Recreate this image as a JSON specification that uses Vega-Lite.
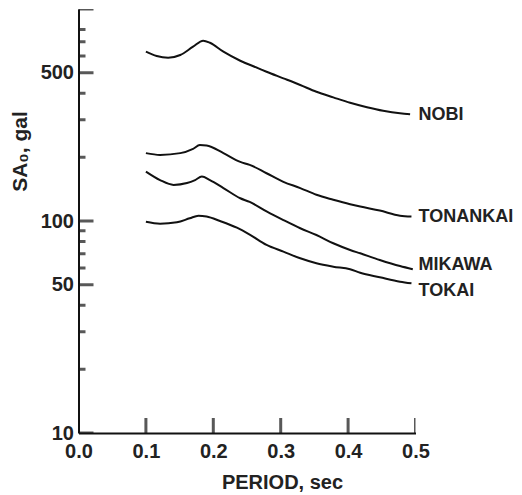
{
  "$schema": "https://vega.github.io/schema/vega-lite/v6.json",
  "width": 337,
  "height": 424,
  "autosize": "none",
  "padding": {"left": 78.5, "top": 9, "right": 106.5, "bottom": 62},
  "background": "white",
  "config": {
    "view": {"stroke": null},
    "font": "Liberation Sans",
    "axis": {
      "domainColor": "#111",
      "domainWidth": 2,
      "ticks": false,
      "labelFont": "Liberation Sans",
      "labelFontSize": 20,
      "labelFontWeight": "bold",
      "labelColor": "#222",
      "titleFont": "Liberation Sans",
      "titleFontSize": 20,
      "titleFontWeight": "bold",
      "titleColor": "#222",
      "grid": false
    }
  },
  "datasets": {
    "curves": [
      {"series": "NOBI", "period": 0.100, "sa": 629},
      {"series": "NOBI", "period": 0.116, "sa": 600},
      {"series": "NOBI", "period": 0.133, "sa": 589},
      {"series": "NOBI", "period": 0.151, "sa": 607},
      {"series": "NOBI", "period": 0.170, "sa": 664},
      {"series": "NOBI", "period": 0.185, "sa": 709},
      {"series": "NOBI", "period": 0.195, "sa": 693},
      {"series": "NOBI", "period": 0.215, "sa": 629},
      {"series": "NOBI", "period": 0.240, "sa": 570},
      {"series": "NOBI", "period": 0.267, "sa": 525},
      {"series": "NOBI", "period": 0.279, "sa": 506},
      {"series": "NOBI", "period": 0.304, "sa": 471},
      {"series": "NOBI", "period": 0.329, "sa": 438},
      {"series": "NOBI", "period": 0.353, "sa": 407},
      {"series": "NOBI", "period": 0.378, "sa": 383},
      {"series": "NOBI", "period": 0.403, "sa": 361},
      {"series": "NOBI", "period": 0.428, "sa": 344},
      {"series": "NOBI", "period": 0.452, "sa": 331},
      {"series": "NOBI", "period": 0.477, "sa": 322},
      {"series": "NOBI", "period": 0.492, "sa": 319},
      {"series": "TONANKAI", "period": 0.100, "sa": 209},
      {"series": "TONANKAI", "period": 0.121, "sa": 205},
      {"series": "TONANKAI", "period": 0.151, "sa": 209},
      {"series": "TONANKAI", "period": 0.170, "sa": 219},
      {"series": "TONANKAI", "period": 0.180, "sa": 228},
      {"series": "TONANKAI", "period": 0.190, "sa": 227},
      {"series": "TONANKAI", "period": 0.215, "sa": 209},
      {"series": "TONANKAI", "period": 0.240, "sa": 190},
      {"series": "TONANKAI", "period": 0.254, "sa": 184},
      {"series": "TONANKAI", "period": 0.279, "sa": 168},
      {"series": "TONANKAI", "period": 0.304, "sa": 153},
      {"series": "TONANKAI", "period": 0.329, "sa": 143},
      {"series": "TONANKAI", "period": 0.353, "sa": 133},
      {"series": "TONANKAI", "period": 0.378, "sa": 126},
      {"series": "TONANKAI", "period": 0.403, "sa": 120},
      {"series": "TONANKAI", "period": 0.418, "sa": 117},
      {"series": "TONANKAI", "period": 0.447, "sa": 112},
      {"series": "TONANKAI", "period": 0.477, "sa": 106},
      {"series": "TONANKAI", "period": 0.494, "sa": 105},
      {"series": "MIKAWA", "period": 0.100, "sa": 171},
      {"series": "MIKAWA", "period": 0.121, "sa": 156},
      {"series": "MIKAWA", "period": 0.141, "sa": 148},
      {"series": "MIKAWA", "period": 0.161, "sa": 151},
      {"series": "MIKAWA", "period": 0.173, "sa": 156},
      {"series": "MIKAWA", "period": 0.183, "sa": 162},
      {"series": "MIKAWA", "period": 0.195, "sa": 156},
      {"series": "MIKAWA", "period": 0.215, "sa": 143},
      {"series": "MIKAWA", "period": 0.240, "sa": 128},
      {"series": "MIKAWA", "period": 0.254, "sa": 123},
      {"series": "MIKAWA", "period": 0.279, "sa": 111},
      {"series": "MIKAWA", "period": 0.304, "sa": 101},
      {"series": "MIKAWA", "period": 0.329, "sa": 92.4},
      {"series": "MIKAWA", "period": 0.353, "sa": 85.9},
      {"series": "MIKAWA", "period": 0.378, "sa": 78.5},
      {"series": "MIKAWA", "period": 0.403, "sa": 73.0},
      {"series": "MIKAWA", "period": 0.418, "sa": 70.4},
      {"series": "MIKAWA", "period": 0.447, "sa": 65.5},
      {"series": "MIKAWA", "period": 0.477, "sa": 61.3},
      {"series": "MIKAWA", "period": 0.496, "sa": 59.2},
      {"series": "TOKAI", "period": 0.100, "sa": 99.2},
      {"series": "TOKAI", "period": 0.121, "sa": 97.1},
      {"series": "TOKAI", "period": 0.146, "sa": 98.6},
      {"series": "TOKAI", "period": 0.165, "sa": 103},
      {"series": "TOKAI", "period": 0.178, "sa": 106},
      {"series": "TOKAI", "period": 0.190, "sa": 105},
      {"series": "TOKAI", "period": 0.210, "sa": 100},
      {"series": "TOKAI", "period": 0.235, "sa": 93},
      {"series": "TOKAI", "period": 0.254, "sa": 86.3},
      {"series": "TOKAI", "period": 0.279, "sa": 77.1},
      {"series": "TOKAI", "period": 0.304, "sa": 71.7},
      {"series": "TOKAI", "period": 0.329, "sa": 66.7},
      {"series": "TOKAI", "period": 0.353, "sa": 63.2},
      {"series": "TOKAI", "period": 0.378, "sa": 60.9},
      {"series": "TOKAI", "period": 0.403, "sa": 59.2},
      {"series": "TOKAI", "period": 0.418, "sa": 57.0},
      {"series": "TOKAI", "period": 0.447, "sa": 54.3},
      {"series": "TOKAI", "period": 0.477, "sa": 51.7},
      {"series": "TOKAI", "period": 0.494, "sa": 50.8}
    ],
    "labels": [
      {"series": "NOBI", "period": 0.5, "sa": 316},
      {"series": "TONANKAI", "period": 0.5, "sa": 105},
      {"series": "MIKAWA", "period": 0.5, "sa": 61.7},
      {"series": "TOKAI", "period": 0.5, "sa": 46.5}
    ],
    "yMajorTicks": [{"sa": 10}, {"sa": 50}, {"sa": 100}, {"sa": 500}, {"sa": 1000}],
    "yMinorTicks": [{"sa": 20}, {"sa": 30}, {"sa": 40}, {"sa": 60}, {"sa": 70}, {"sa": 80}, {"sa": 90}, {"sa": 200}, {"sa": 300}, {"sa": 400}, {"sa": 600}, {"sa": 700}, {"sa": 800}],
    "xTicks": [{"period": 0.1}, {"period": 0.2}, {"period": 0.3}, {"period": 0.4}, {"period": 0.5}]
  },
  "layer": [
    {
      "data": {"name": "curves"},
      "mark": {"type": "line", "color": "#111", "strokeWidth": 2, "interpolate": "monotone"},
      "encoding": {
        "detail": {"field": "series"},
        "x": {
          "field": "period",
          "type": "quantitative",
          "scale": {"domain": [0, 0.5], "nice": false, "zero": false},
          "axis": {
            "title": "PERIOD, sec",
            "values": [0, 0.1, 0.2, 0.3, 0.4, 0.5],
            "format": ".1f",
            "labelPadding": 8,
            "labelFlush": false,
            "titleX": 203.5,
            "titleY": 49,
            "titleAlign": "center",
            "titleBaseline": "middle",
            "titleAnchor": null
          }
        },
        "y": {
          "field": "sa",
          "type": "quantitative",
          "scale": {"type": "log", "domain": [10, 1000], "nice": false},
          "axis": {
            "title": "SA₀, gal",
            "titleFontSize": 21,
            "values": [10, 50, 100, 500],
            "labelPadding": 5,
            "labelFlush": false,
            "titleAngle": -90,
            "titleX": -58,
            "titleY": 142,
            "titleAlign": "center",
            "titleBaseline": "middle",
            "titleAnchor": null
          }
        }
      }
    },
    {
      "data": {"name": "yMajorTicks"},
      "mark": {"type": "tick", "orient": "horizontal", "size": 30, "thickness": 3, "color": "#111", "clip": true},
      "encoding": {
        "x": {"datum": 0, "type": "quantitative"},
        "y": {"field": "sa", "type": "quantitative"}
      }
    },
    {
      "data": {"name": "yMinorTicks"},
      "mark": {"type": "tick", "orient": "horizontal", "size": 14, "thickness": 3, "color": "#111", "clip": true},
      "encoding": {
        "x": {"datum": 0, "type": "quantitative"},
        "y": {"field": "sa", "type": "quantitative"}
      }
    },
    {
      "data": {"name": "xTicks"},
      "mark": {"type": "tick", "size": 30, "thickness": 3, "color": "#111", "clip": true},
      "encoding": {
        "x": {"field": "period", "type": "quantitative"},
        "y": {"datum": 10, "type": "quantitative"}
      }
    },
    {
      "data": {"name": "labels"},
      "mark": {"type": "text", "align": "left", "baseline": "middle", "dx": 3, "font": "Liberation Sans", "fontSize": 18, "fontWeight": "bold", "color": "#222"},
      "encoding": {
        "text": {"field": "series"},
        "x": {"field": "period", "type": "quantitative"},
        "y": {"field": "sa", "type": "quantitative"}
      }
    }
  ]
}
